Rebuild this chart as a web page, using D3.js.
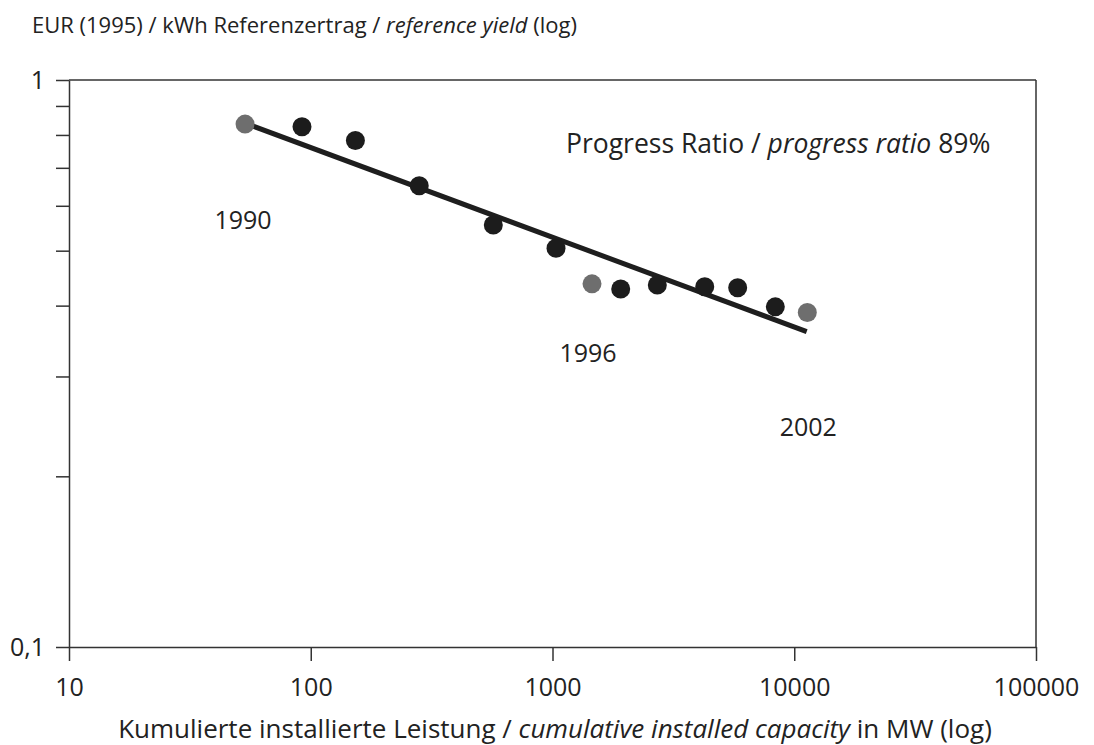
<!DOCTYPE html>
<html>
<head>
<meta charset="utf-8">
<script src="https://cdn.jsdelivr.net/npm/d3@7"></script>
<style>
  body { margin: 0; background: #fff; }
  svg text { font-family: "Open Sans", "Noto Sans", sans-serif; fill: #222; }
</style>
</head>
<body>
<div id="chart"></div>
<script>
// values (log-log learning curve)
var years = [1990, 1991, 1992, 1993, 1994, 1995, 1996, 1997, 1998, 1999, 2000, 2001, 2002];
var capacity = [53.5, 92, 153, 281, 569, 1034, 1457, 1915, 2714, 4263, 5834, 8351, 11324];
var refYield = [0.836, 0.827, 0.782, 0.651, 0.555, 0.505, 0.437, 0.428, 0.435, 0.432, 0.430, 0.398, 0.389];
var highlightYears = [1990, 1996, 2002];

// regression line end points
var fitCapacity = [56, 11260];
var fitYield = [0.833, 0.360];

var xTicks = [10, 100, 1000, 10000, 100000];
var yTicks = [0.1, 0.2, 0.3, 0.4, 0.5, 0.6, 0.7, 0.8, 0.9, 1];

var width = 1094, height = 745;
var margin = {top: 80, right: 58, bottom: 98, left: 69};

var svg = d3.select("#chart").append("svg")
  .attr("width", width).attr("height", height);

var x = d3.scaleLog().domain([10, 100000]).range([margin.left, width - margin.right]);
var y = d3.scaleLog().domain([0.1, 1]).range([height - margin.bottom, margin.top]);

var axisColor = "#333";

// frame top + right
svg.append("line")
  .attr("x1", x(10)).attr("x2", x(100000))
  .attr("y1", y(1)).attr("y2", y(1))
  .attr("stroke", axisColor).attr("stroke-width", 1.5);
svg.append("line")
  .attr("x1", x(100000)).attr("x2", x(100000))
  .attr("y1", y(1)).attr("y2", y(0.1))
  .attr("stroke", axisColor).attr("stroke-width", 1.5);

// x axis
var xAxis = svg.append("g")
  .attr("transform", "translate(0," + y(0.1) + ")")
  .call(d3.axisBottom(x).tickValues(xTicks).tickSize(14).tickSizeOuter(0).tickPadding(17)
    .tickFormat(function(d) { return String(d); }));
xAxis.selectAll("text").attr("font-size", 25).style("font-family", "'Open Sans', sans-serif");

// y axis
var yAxis = svg.append("g")
  .attr("transform", "translate(" + x(10) + ",0)")
  .call(d3.axisLeft(y).tickValues(yTicks).tickSize(13).tickSizeOuter(0).tickPadding(11)
    .tickFormat(function(d) {
      if (Math.abs(d - 1) < 1e-9) return "1";
      if (Math.abs(d - 0.1) < 1e-9) return "0,1";
      return "";
    }));
yAxis.selectAll("text").attr("font-size", 25).style("font-family", "'Open Sans', sans-serif");

[xAxis, yAxis].forEach(function(a) {
  a.select(".domain").attr("stroke", axisColor).attr("stroke-width", 1.5);
  a.selectAll(".tick line").attr("stroke", axisColor).attr("stroke-width", 1.5);
  a.selectAll(".tick text").attr("fill", "#222");
});

// fit line
svg.append("line")
  .attr("x1", x(fitCapacity[0])).attr("y1", y(fitYield[0]))
  .attr("x2", x(fitCapacity[1])).attr("y2", y(fitYield[1]))
  .attr("stroke", "#1e1e1e").attr("stroke-width", 5);

// points
svg.selectAll(".dot")
  .data(years)
  .enter().append("circle")
  .attr("class", "dot")
  .attr("cx", function(d, i) { return x(capacity[i]); })
  .attr("cy", function(d, i) { return y(refYield[i]); })
  .attr("r", 9.5)
  .attr("fill", function(d) { return highlightYears.indexOf(d) >= 0 ? "#6e6e6e" : "#1c1c1c"; });

// year labels below the highlighted points
var labelOffset = {1990: [-2, 105], 1996: [-4, 78], 2002: [1, 124]};
highlightYears.forEach(function(yr) {
  var i = years.indexOf(yr);
  svg.append("text")
    .attr("x", x(capacity[i]) + labelOffset[yr][0])
    .attr("y", y(refYield[i]) + labelOffset[yr][1])
    .attr("text-anchor", "middle")
    .attr("font-size", 25)
    .text(yr);
});

// progress ratio note
var note = svg.append("text").attr("x", 566).attr("y", 153).attr("font-size", 26.5);
note.append("tspan").text("Progress Ratio / ");
note.append("tspan").attr("font-style", "italic").text("progress ratio");
note.append("tspan").text(" 89%");

// y title
var yTitle = svg.append("text").attr("x", 32).attr("y", 33).attr("font-size", 22);
yTitle.append("tspan").text("EUR (1995) / kWh Referenzertrag / ");
yTitle.append("tspan").attr("font-style", "italic").text("reference yield");
yTitle.append("tspan").text(" (log)");

// x title
var xTitle = svg.append("text").attr("x", 555).attr("y", 738)
  .attr("text-anchor", "middle").attr("font-size", 26);
xTitle.append("tspan").text("Kumulierte installierte Leistung / ");
xTitle.append("tspan").attr("font-style", "italic").text("cumulative installed capacity");
xTitle.append("tspan").text(" in MW (log)");
</script>
</body>
</html>
